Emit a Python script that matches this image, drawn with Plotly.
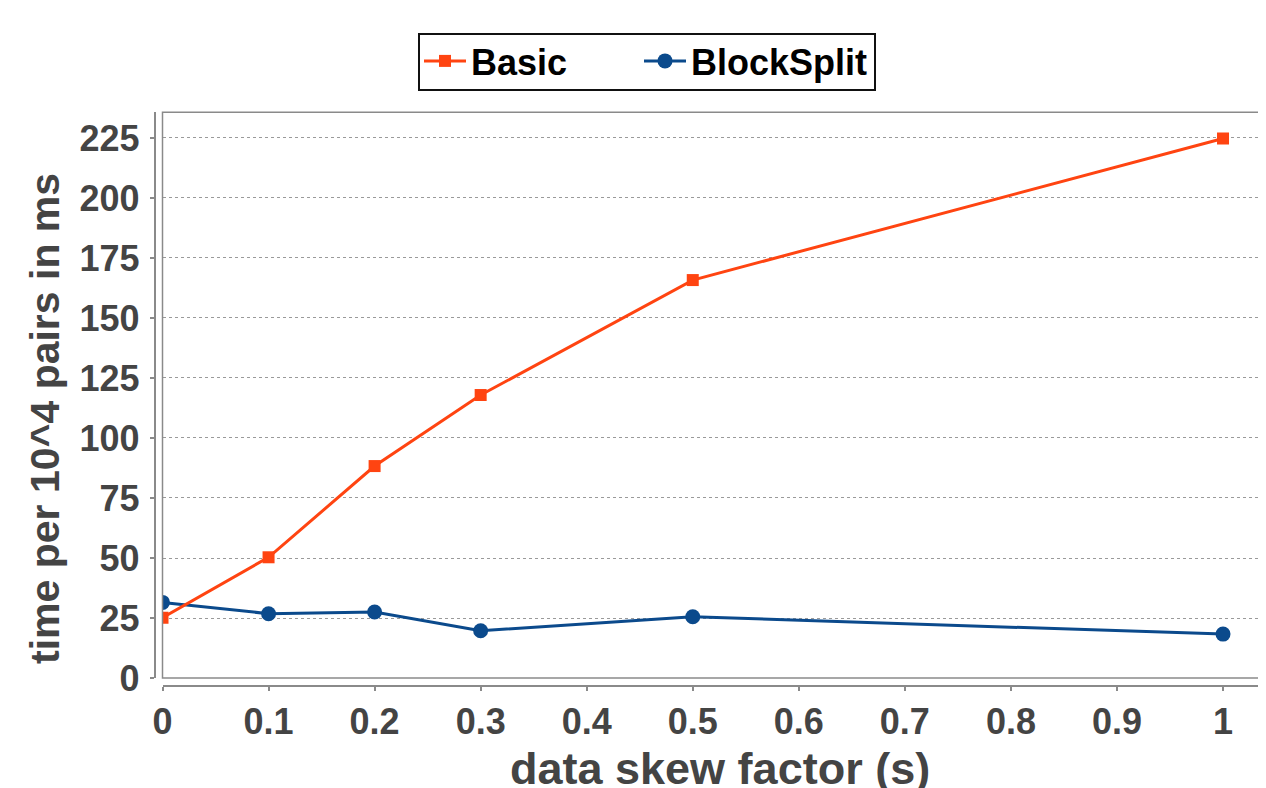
import plotly.graph_objects as go

# ---- data ----
skew = [0, 0.1, 0.2, 0.3, 0.5, 1.0]
basic = [25.1, 50.3, 88.3, 117.9, 165.8, 224.8]
blocksplit = [31.5, 26.8, 27.5, 19.7, 25.5, 18.3]
y_ticks = [0, 25, 50, 75, 100, 125, 150, 175, 200, 225]
x_ticks = [0, 0.1, 0.2, 0.3, 0.4, 0.5, 0.6, 0.7, 0.8, 0.9, 1]
x_ticklabels = ["0", "0.1", "0.2", "0.3", "0.4", "0.5", "0.6", "0.7", "0.8", "0.9", "1"]

# page body has an 8px default margin; figure sized to fit the window
OFF = 8
W, H = 1258, 780
ML, MR, MT, MB = 92, 3, 102, 90
PW = W - ML - MR
PH = H - MT - MB

def px_x(p):
    # screen x -> paper fraction
    return (p - OFF - ML) / PW

def px_y(p):
    # screen y -> paper fraction
    return (H - MB - (p - OFF)) / PH

FONT = "Liberation Sans, Arial, sans-serif"
GRAY_TXT = "#444444"
AX = "#8a8a8a"
LEG_FONT = dict(family=FONT, size=36, color="black", weight="bold")

fig = go.Figure()
fig.add_trace(go.Scatter(
    x=skew, y=blocksplit, name="BlockSplit", mode="lines+markers",
    line=dict(color="#0b4a8c", width=3),
    marker=dict(symbol="circle", size=15, color="#0b4a8c"),
    legend="legend2",
))
fig.add_trace(go.Scatter(
    x=skew, y=basic, name="Basic", mode="lines+markers",
    line=dict(color="#ff4411", width=3),
    marker=dict(symbol="square", size=12, color="#ff4411"),
    legend="legend",
))

fig.update_layout(
    width=W, height=H,
    margin=dict(l=ML, r=MR, t=MT, b=MB, autoexpand=False),
    paper_bgcolor="white", plot_bgcolor="white",
    font=dict(family=FONT, color=GRAY_TXT),
    showlegend=True,
    legend=dict(
        orientation="h", x=px_x(419), y=px_y(31), xanchor="left", yanchor="top",
        bgcolor="rgba(0,0,0,0)", borderwidth=0,
        font=LEG_FONT, itemwidth=42,
    ),
    legend2=dict(
        orientation="h", x=px_x(639), y=px_y(31), xanchor="left", yanchor="top",
        bgcolor="rgba(0,0,0,0)", borderwidth=0,
        font=LEG_FONT, itemwidth=42,
    ),
    xaxis=dict(
        domain=[px_x(162.5), 1],
        range=[0, 1.0377],
        anchor="free", position=px_y(686),
        tickmode="array", tickvals=x_ticks, ticktext=x_ticklabels,
        showgrid=False, zeroline=False,
        showline=True, linecolor=AX, linewidth=1.5,
        ticks="outside", ticklen=4, tickwidth=1.5, tickcolor=AX,
        tickfont=dict(family=FONT, size=36, color=GRAY_TXT, weight="bold"),
        ticklabelstandoff=0,
    ),
    yaxis=dict(
        domain=[px_y(678), px_y(112.3)],
        range=[0, 235.7],
        anchor="free", position=px_x(154.5),
        tickmode="array", tickvals=y_ticks,
        showgrid=True, gridcolor="#9a9a9a", griddash="3px,3px", gridwidth=1,
        zeroline=False,
        showline=True, linecolor=AX, linewidth=1.5,
        ticks="outside", ticklen=4, tickwidth=1.5, tickcolor=AX,
        tickfont=dict(family=FONT, size=36, color=GRAY_TXT, weight="bold"),
        ticklabelstandoff=3,
    ),
    shapes=[
        dict(type="rect", xref="x domain", yref="y domain",
             x0=0, x1=1, y0=0, y1=1,
             line=dict(color=AX, width=1.5), layer="above"),
        # legend frame
        dict(type="rect", xref="paper", yref="paper",
             x0=px_x(419), x1=px_x(875), y0=px_y(90), y1=px_y(34),
             line=dict(color="#111111", width=2), fillcolor="white",
             layer="below"),
    ],
    annotations=[
        dict(text="data skew factor (s)", xref="paper", yref="paper",
             x=px_x(720), y=px_y(768), xanchor="center", yanchor="middle",
             showarrow=False,
             font=dict(family=FONT, size=45, color=GRAY_TXT, weight="bold")),
        dict(text="time per 10^4 pairs in ms", xref="paper", yref="paper",
             x=px_x(45), y=px_y(419), xanchor="center", yanchor="middle",
             textangle=-90, showarrow=False,
             font=dict(family=FONT, size=41, color=GRAY_TXT, weight="bold")),
    ],
)

fig.write_html("out.html")
